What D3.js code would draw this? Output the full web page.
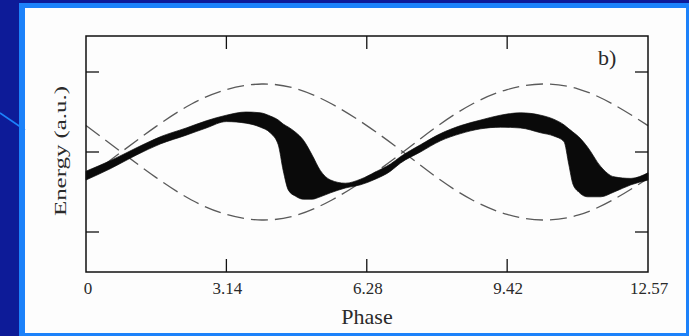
<!DOCTYPE html>
<html>
<head>
<meta charset="utf-8">
<script src="https://cdn.jsdelivr.net/npm/d3@7/dist/d3.min.js"></script>
<style>
  html, body { margin: 0; padding: 0; background: #0d1b98; }
  svg { display: block; }
  text { font-family: "Liberation Serif", "DejaVu Serif", serif; fill: #2a2a2a; }
</style>
</head>
<body>
<script>
// Phase axis ticks
const xTicks = [0, 3.14, 6.28, 9.42, 12.57];
const xTickLabels = ["0", "3.14", "6.28", "9.42", "12.57"];
// Energy axis ticks (unlabelled)
const yTicks = [-1, 0, 1];

// Separatrix bounds (dashed), energy vs phase
const sepPhase = [0, 0.79, 1.57, 2.36, 3.14, 3.93, 4.71, 5.50, 6.28, 7.07, 7.85, 8.64, 9.42, 10.21, 11.00, 11.78, 12.57];
const sepUpper = [-0.33, 0.00, 0.32, 0.60, 0.78, 0.85, 0.79, 0.60, 0.33, 0.01, -0.32, -0.60, -0.78, -0.85, -0.79, -0.60, -0.33];
const sepLower = [0.33, 0.00, -0.32, -0.60, -0.78, -0.85, -0.79, -0.60, -0.33, -0.01, 0.32, 0.60, 0.78, 0.85, 0.79, 0.60, 0.33];

// Particle band: upper and lower energy envelope vs phase
const bandPhase = [0.00, 0.54, 1.12, 1.66, 2.24, 2.69, 3.14, 3.58, 3.90, 4.12, 4.30, 4.41, 4.53, 4.68, 4.86, 5.06, 5.24, 5.47, 5.80, 6.14, 6.47, 6.81, 7.03, 7.48, 7.93, 8.38, 8.83, 9.27, 9.72, 10.17, 10.46, 10.69, 10.80, 10.89, 11.02, 11.22, 11.51, 11.81, 12.19, 12.57];
const bandTop = [-0.24, -0.11, 0.05, 0.19, 0.30, 0.39, 0.46, 0.50, 0.49, 0.45, 0.40, 0.35, 0.31, 0.25, 0.15, -0.04, -0.23, -0.35, -0.39, -0.34, -0.25, -0.15, -0.06, 0.09, 0.23, 0.33, 0.40, 0.46, 0.49, 0.46, 0.41, 0.34, 0.29, 0.25, 0.19, 0.06, -0.18, -0.31, -0.33, -0.26];
const bandBottom = [-0.35, -0.21, -0.04, 0.10, 0.21, 0.30, 0.38, 0.36, 0.31, 0.24, 0.09, -0.23, -0.48, -0.55, -0.59, -0.59, -0.56, -0.51, -0.45, -0.41, -0.34, -0.24, -0.14, 0.00, 0.14, 0.23, 0.29, 0.31, 0.30, 0.24, 0.20, 0.13, -0.16, -0.40, -0.50, -0.56, -0.56, -0.50, -0.41, -0.35];

const W = 689, H = 336;
const svg = d3.select("body").append("svg").attr("width", W).attr("height", H);

// Slide background, frame and white panel
svg.append("rect").attr("width", W).attr("height", H).attr("fill", "#0d1b98");
svg.append("rect").attr("x", 19).attr("y", 3).attr("width", W - 19).attr("height", H - 3).attr("fill", "#1c82fa");
svg.append("rect").attr("x", 25).attr("y", 8).attr("width", 661).attr("height", 325).attr("fill", "#fdfdfd");
svg.append("line").attr("x1", 0).attr("y1", 113).attr("x2", 25).attr("y2", 130)
  .attr("stroke", "#1c82fa").attr("stroke-width", 1.6);

const m = { left: 86, right: 648, top: 36, bottom: 272 };
const x = d3.scaleLinear().domain([0, 12.57]).range([m.left, m.right]);
const y = d3.scaleLinear().domain([-1.5, 1.45]).range([m.bottom, m.top]);

const plot = svg.append("g");

// Separatrices
const sepLine = (vals) => d3.line()
  .x((d, i) => x(sepPhase[i]))
  .y((d) => y(d))
  .curve(d3.curveNatural)(vals);
[sepUpper, sepLower].forEach(vals => {
  plot.append("path").attr("d", sepLine(vals))
    .attr("fill", "none").attr("stroke", "#5a5a5a").attr("stroke-width", 1.3)
    .attr("stroke-dasharray", "17,7");
});

// Particle band
const bandData = bandPhase.map((p, i) => ({ p, t: bandTop[i], b: bandBottom[i] }));
plot.append("path")
  .attr("d", d3.area().x(d => x(d.p)).y0(d => y(d.b)).y1(d => y(d.t)).curve(d3.curveMonotoneX)(bandData))
  .attr("fill", "#0a0a0a").attr("stroke", "#0a0a0a").attr("stroke-width", 0.7).attr("stroke-linejoin", "round");

// Frame and mirrored inward ticks
const axisCol = "#111", tickLen = 13;
plot.append("rect").attr("x", m.left).attr("y", m.top)
  .attr("width", m.right - m.left).attr("height", m.bottom - m.top)
  .attr("fill", "none").attr("stroke", axisCol).attr("stroke-width", 1.5);

const inner = xTicks.slice(1, -1);
inner.forEach(t => {
  plot.append("line").attr("x1", x(t)).attr("x2", x(t)).attr("y1", m.bottom).attr("y2", m.bottom - tickLen)
    .attr("stroke", axisCol).attr("stroke-width", 1.3);
  plot.append("line").attr("x1", x(t)).attr("x2", x(t)).attr("y1", m.top).attr("y2", m.top + tickLen)
    .attr("stroke", axisCol).attr("stroke-width", 1.3);
});
yTicks.forEach(t => {
  plot.append("line").attr("x1", m.left).attr("x2", m.left + tickLen).attr("y1", y(t)).attr("y2", y(t))
    .attr("stroke", axisCol).attr("stroke-width", 1.3);
  plot.append("line").attr("x1", m.right).attr("x2", m.right - tickLen).attr("y1", y(t)).attr("y2", y(t))
    .attr("stroke", axisCol).attr("stroke-width", 1.3);
});

// Tick labels
xTicks.forEach((t, i) => {
  svg.append("text").attr("x", x(t) + (i === 0 ? 2 : 1)).attr("y", 294)
    .attr("text-anchor", "middle").attr("font-size", 17).text(xTickLabels[i]);
});

// Axis titles
svg.append("text").attr("x", 367).attr("y", 324).attr("text-anchor", "middle")
  .attr("font-size", 22).text("Phase");
svg.append("text").attr("transform", "translate(66,151) rotate(-90)")
  .attr("text-anchor", "middle").attr("font-size", 16)
  .attr("textLength", 130).attr("lengthAdjust", "spacingAndGlyphs")
  .text("Energy (a.u.)");

// Panel tag
svg.append("text").attr("x", 598).attr("y", 65).attr("font-size", 22).text("b)");
</script>
</body>
</html>
